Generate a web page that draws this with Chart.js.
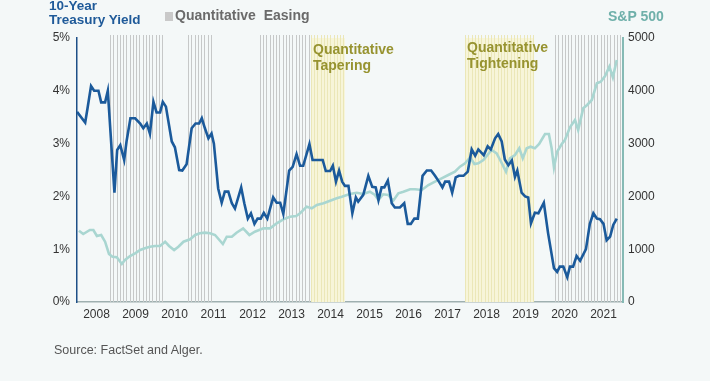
<!DOCTYPE html>
<html>
<head>
<meta charset="utf-8">
<script src="https://cdn.jsdelivr.net/npm/chart.js@4/dist/chart.umd.min.js"></script>
<style>
  html, body { margin: 0; padding: 0; background: #f4f8f8; }
  #wrap { position: relative; width: 710px; height: 381px; overflow: hidden; }
  #wrap canvas { position: absolute; left: 0; top: 0; }
  .lbl { position: absolute; white-space: nowrap; font-family: "Liberation Sans Narrow", "Liberation Sans", Arial, sans-serif; }
  #title { left: 49px; top: -1px; color: #1f5a99; font-weight: bold; font-size: 13.5px; line-height: 14px; }
  #legend { left: 165px; top: 6px; color: #6a6a6a; font-weight: bold; font-size: 14px; line-height: 18px; }
  #legend span.sw { display: inline-block; width: 8px; height: 9px; background: #c9c9c9; margin-right: 2px; vertical-align: -1px; }
  #spx { left: 608px; top: 7px; color: #6fb0aa; font-weight: bold; font-size: 14px; line-height: 18px; }
  #source { left: 54px; top: 342px; color: #555; font-size: 12.5px; line-height: 16px; }
</style>
</head>
<body>
<div id="wrap">
  <canvas id="c" width="710" height="381"></canvas>
  <div class="lbl" id="title">10-Year<br>Treasury Yield</div>
  <div class="lbl" id="legend"><span class="sw"></span>Quantitative&nbsp; Easing</div>
  <div class="lbl" id="spx">S&amp;P 500</div>
  <div class="lbl" id="source">Source: FactSet and Alger.</div>
</div>
<script>
// ---- Data (decimal years) ----
const yieldDates = [2008.00,2008.21,2008.27,2008.36,2008.44,2008.55,2008.62,2008.72,2008.79,2008.96,
  2009.03,2009.11,2009.21,2009.27,2009.37,2009.49,2009.62,2009.70,2009.79,2009.87,2009.96,
  2010.04,2010.13,2010.20,2010.28,2010.43,2010.51,2010.62,2010.70,2010.81,2010.94,
  2011.04,2011.13,2011.20,2011.28,2011.37,2011.45,2011.51,2011.62,2011.71,2011.79,2011.88,2011.97,
  2012.05,2012.21,2012.29,2012.38,2012.46,2012.55,2012.63,2012.71,2012.79,2012.88,
  2013.03,2013.12,2013.21,2013.29,2013.44,2013.53,2013.63,2013.72,2013.80,2013.96,
  2014.04,2014.15,2014.30,2014.38,2014.49,2014.56,2014.64,2014.72,2014.80,2014.87,2014.96,
  2015.06,2015.15,2015.21,2015.34,2015.47,2015.57,2015.66,2015.73,2015.81,2015.88,2015.97,
  2016.07,2016.15,2016.28,2016.39,2016.48,2016.56,2016.65,2016.74,2016.86,2016.97,
  2017.08,2017.18,2017.28,2017.37,2017.44,2017.54,2017.62,2017.71,2017.79,2017.91,
  2018.02,2018.12,2018.21,2018.29,2018.38,2018.43,2018.53,2018.61,2018.72,2018.80,2018.89,2018.97,
  2019.06,2019.15,2019.23,2019.29,2019.40,2019.49,2019.57,2019.64,2019.74,2019.83,2019.97,
  2020.08,2020.23,2020.31,2020.38,2020.47,2020.57,2020.64,2020.72,2020.81,2020.90,
  2021.05,2021.15,2021.24,2021.33,2021.41,2021.50,2021.58,2021.67,2021.75,2021.84];
const yieldValues = [3.60,3.40,3.67,4.09,4.00,4.00,3.78,3.78,4.00,2.07,
  2.88,2.97,2.69,3.04,3.48,3.48,3.38,3.29,3.38,3.19,3.79,
  3.59,3.59,3.79,3.70,3.04,2.93,2.50,2.49,2.61,3.29,
  3.38,3.38,3.48,3.29,3.10,3.19,3.00,2.15,1.88,2.09,2.09,1.87,
  1.77,2.17,1.87,1.58,1.68,1.48,1.58,1.58,1.69,1.58,
  1.98,1.88,1.88,1.67,2.49,2.56,2.80,2.58,2.58,2.99,
  2.69,2.69,2.69,2.48,2.48,2.58,2.28,2.49,2.28,2.20,2.20,
  1.68,1.98,1.90,2.03,2.39,2.18,2.17,1.93,2.17,2.17,2.30,
  1.87,1.79,1.79,1.87,1.48,1.48,1.58,1.58,2.39,2.49,
  2.49,2.39,2.28,2.17,2.28,2.28,2.07,2.36,2.39,2.39,
  2.47,2.89,2.77,2.89,2.82,2.78,2.95,2.89,3.10,3.18,3.04,2.70,
  2.59,2.68,2.37,2.49,2.07,2.00,1.98,1.49,1.69,1.68,1.88,
  1.30,0.64,0.57,0.67,0.67,0.47,0.67,0.67,0.87,0.78,
  1.00,1.48,1.68,1.58,1.57,1.48,1.17,1.24,1.46,1.58];

const spxDates = [2008.05,2008.16,2008.33,2008.42,2008.51,2008.62,2008.72,2008.82,2008.91,
  2009.02,2009.15,2009.23,2009.36,2009.49,2009.62,2009.74,2009.87,
  2010.00,2010.13,2010.26,2010.36,2010.49,2010.60,2010.73,2010.90,
  2011.03,2011.15,2011.28,2011.41,2011.54,2011.74,2011.84,2011.97,
  2012.09,2012.26,2012.42,2012.56,2012.78,2012.95,
  2013.12,2013.29,2013.46,2013.62,2013.72,2013.89,
  2014.02,2014.15,2014.32,2014.49,2014.66,2014.79,2014.92,
  2015.00,2015.17,2015.34,2015.51,2015.64,2015.73,2015.85,2015.98,
  2016.11,2016.24,2016.37,2016.54,2016.67,2016.84,
  2017.01,2017.18,2017.35,2017.52,2017.69,2017.82,2017.95,
  2018.08,2018.19,2018.29,2018.42,2018.63,2018.76,2018.85,
  2019.00,2019.10,2019.23,2019.34,2019.43,2019.53,2019.63,2019.74,2019.85,
  2020.00,2020.10,2020.17,2020.23,2020.31,2020.43,2020.51,2020.64,2020.77,2020.85,2020.98,
  2021.08,2021.20,2021.33,2021.43,2021.54,2021.65,2021.74,2021.84];
const spxValues = [1350,1288,1364,1364,1250,1269,1142,909,858,
  847,720,795,871,922,985,1017,1047,
  1061,1061,1142,1061,985,1047,1142,1187,
  1269,1301,1313,1301,1269,1098,1237,1237,
  1313,1395,1269,1331,1395,1395,
  1490,1566,1616,1629,1680,1805,
  1775,1837,1869,1919,1964,1994,2027,
  2045,2070,2045,2089,2027,1932,2040,2027,
  1919,2059,2089,2134,2134,2121,
  2216,2279,2342,2405,2468,2563,2626,
  2740,2614,2626,2689,2879,2816,2689,
  2468,2721,2784,2911,2721,2911,2941,2911,2992,
  3182,3182,2911,2551,2846,2992,3068,3308,3447,3258,3668,
  3731,3826,4142,4173,4280,4457,4255,4583];

const yearTicks = [2008,2009,2010,2011,2012,2013,2014,2015,2016,2017,2018,2019,2020,2021];
const yieldTicks = [0,1,2,3,4,5];
const spxTicks = [0,1000,2000,3000,4000,5000];

// Policy periods
const bandNames  = ["QE1","QE2","QE3","Tapering","QE4","Tightening"];
const bandStarts = [2008.85,2010.85,2012.69,2014.00,2020.26,2017.95];
const bandEnds   = [2010.21,2011.46,2013.97,2014.87,2021.95,2019.72];
const bandKinds  = ["easing","easing","easing","tapering","easing","tightening"];
const bandLabels = {tapering:["Quantitative","Tapering"], tightening:["Quantitative","Tightening"]};

const FONT = '"Liberation Sans", Arial, sans-serif';
const NARROW = '"Liberation Sans Narrow", "Liberation Sans", Arial, sans-serif';

const bandPlugin = {
  id: 'bands',
  beforeDatasetsDraw(chart) {
    const {ctx, chartArea, scales} = chart;
    const xs = scales.x;
    ctx.save();
    for (let i = 0; i < bandNames.length; i++) {
      const x0 = xs.getPixelForValue(bandStarts[i]);
      const x1 = xs.getPixelForValue(bandEnds[i]);
      const kind = bandKinds[i];
      if (kind !== 'easing') {
        ctx.fillStyle = '#f7f5d9';
        ctx.fillRect(x0, chartArea.top, x1 - x0, chartArea.bottom - chartArea.top);
      }
      ctx.strokeStyle = kind === 'easing' ? '#c6c8c8' : '#ebe7b8';
      ctx.lineWidth = 1;
      const step = 1 / 12;
      for (let v = bandStarts[i]; v <= bandEnds[i] + 1e-6; v += step) {
        const px = Math.round(xs.getPixelForValue(v)) + 0.5;
        ctx.beginPath();
        ctx.moveTo(px, chartArea.top - 3);
        ctx.lineTo(px, chartArea.bottom);
        ctx.stroke();
      }
      if (bandLabels[kind]) {
        ctx.fillStyle = '#979330';
        ctx.font = 'bold 14px ' + NARROW;
        ctx.textBaseline = 'middle';
        ctx.textAlign = 'left';
        const lines = bandLabels[kind];
        const ty = kind === 'tapering' ? 50 : 48;
        ctx.fillText(lines[0], x0 + 2, ty);
        ctx.fillText(lines[1], x0 + 2, ty + 16);
      }
    }
    ctx.restore();
  }
};

const toPts = (xs, ys) => xs.map((x, i) => ({x, y: ys[i]}));

new Chart(document.getElementById('c'), {
  type: 'line',
  data: {
    datasets: [
      { label: '10-Year Treasury Yield', data: toPts(yieldDates, yieldValues), yAxisID: 'y',
        borderColor: '#1b5a9b', borderWidth: 2.6, pointRadius: 0, tension: 0, order: 1 },
      { label: 'S&P 500', data: toPts(spxDates, spxValues), yAxisID: 'y1',
        borderColor: '#a9d6d1', borderWidth: 2.6, pointRadius: 0, tension: 0, order: 2 }
    ]
  },
  options: {
    responsive: false,
    animation: false,
    events: [],
    layout: { padding: { top: 38, left: 0, right: 0, bottom: 0 } },
    plugins: { legend: { display: false }, tooltip: { enabled: false } },
    scales: {
      x: {
        type: 'linear', min: 2008, max: 2022,
        grid: { display: false, drawTicks: false },
        border: { display: true, color: '#9fb0b0', width: 1.5 },
        afterBuildTicks(s) { s.ticks = yearTicks.map(y => ({ value: y + 0.5 })); },
        afterFit(s) { s.height = 79; },
        ticks: { autoSkip: false, maxRotation: 0, padding: 5, color: '#333',
          font: { family: FONT, size: 12 },
          callback: v => String(Math.floor(v)) }
      },
      y: {
        position: 'left', min: 0, max: 5,
        grid: { display: false, drawTicks: false },
        border: { display: true, color: '#1d4f87', width: 1.5 },
        afterBuildTicks(s) { s.ticks = yieldTicks.map(v => ({ value: v })); },
        afterFit(s) { s.width = 77; },
        ticks: { padding: 7, color: '#333', font: { family: FONT, size: 12 }, callback: v => v + '%' }
      },
      y1: {
        position: 'right', min: 0, max: 5000,
        grid: { display: false, drawTicks: false },
        border: { display: true, color: '#86bab5', width: 2 },
        afterBuildTicks(s) { s.ticks = spxTicks.map(v => ({ value: v })); },
        afterFit(s) { s.width = 87; },
        ticks: { padding: 5, color: '#333', font: { family: FONT, size: 12 }, callback: v => String(v) }
      }
    }
  },
  plugins: [bandPlugin]
});
</script>
</body>
</html>
